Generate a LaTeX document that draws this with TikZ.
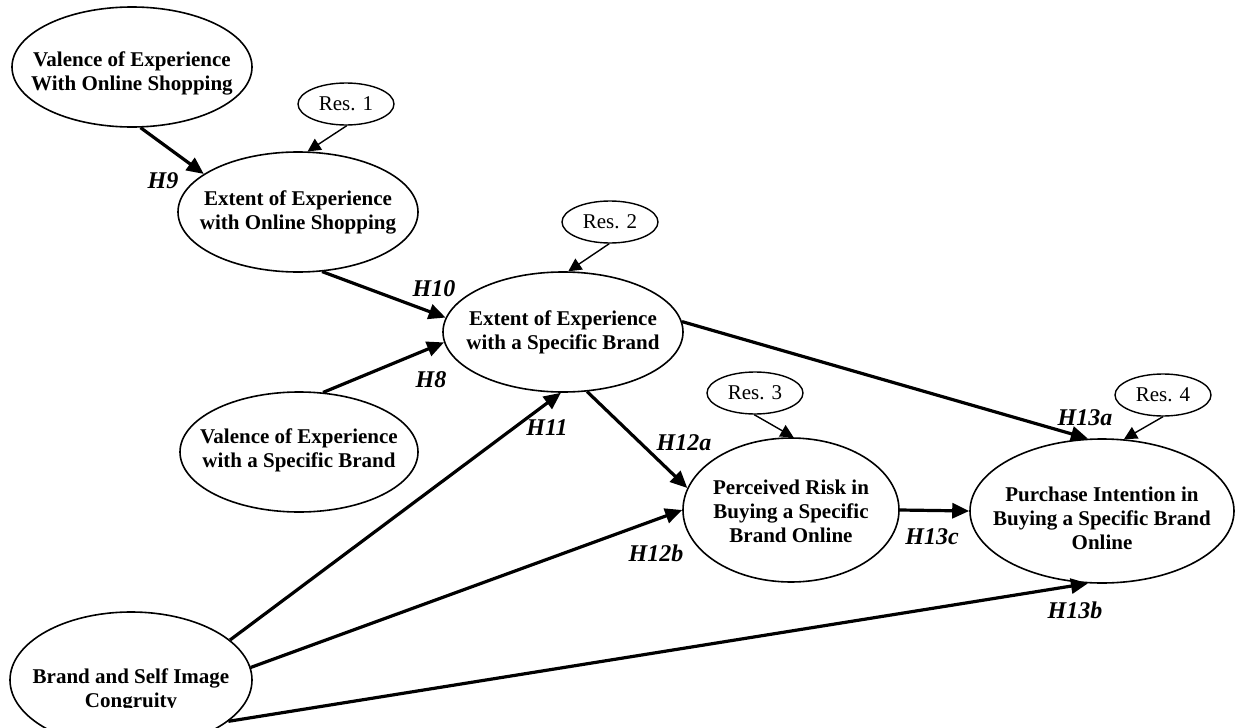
\documentclass[tikz,border=0pt]{standalone}
\usepackage{fontspec}
\setmainfont{Liberation Serif}
\usetikzlibrary{arrows.meta,shapes.geometric}
\begin{document}
\begin{tikzpicture}[x=1pt,y=-1pt,
  construct/.style={draw,ellipse,line width=1.6pt,inner sep=0pt},
  ctext/.style={inner sep=0pt,align=center,font=\fontsize{21}{24}\selectfont\bfseries},
  resid/.style={draw,ellipse,line width=1.4pt,inner sep=0pt,minimum width=96pt,minimum height=42pt,font=\fontsize{21}{24}\selectfont},
  effect/.style={line width=3.2pt,-{Triangle[length=17pt,width=15pt]}},
  respath/.style={line width=1.4pt,-{Triangle[length=13pt,width=13pt]}},
  hyp/.style={inner sep=0pt,font=\fontsize{24}{26}\selectfont\bfseries\itshape}]
\clip (0,0) rectangle (1235,728);

% constructs
\node[construct,minimum width=240pt,minimum height=120pt] (valOS) at (132,67) {};
\node[ctext] (valOS-t) at (132,73) {Valence of Experience\\With Online Shopping};

\node[construct,minimum width=240pt,minimum height=120pt] (extOS) at (298,212) {};
\node[ctext] (extOS-t) at (298,212) {Extent of Experience\\with Online Shopping};

\node[construct,minimum width=240pt,minimum height=120pt] (extB) at (563,332) {};
\node[ctext] (extB-t) at (563,332) {Extent of Experience\\with a Specific Brand};

\node[construct,minimum width=238pt,minimum height=120pt] (valB) at (299,452) {};
\node[ctext] (valB-t) at (299,450) {Valence of Experience\\with a Specific Brand};

\node[construct,minimum width=216pt,minimum height=144pt] (perc) at (791,510) {};
\node[ctext] (perc-t) at (791,511) {Perceived Risk in\\Buying a Specific\\Brand Online};

\node[construct,minimum width=264pt,minimum height=144pt] (purch) at (1102,511) {};
\node[ctext] (purch-t) at (1102,518) {Purchase Intention in\\Buying a Specific Brand\\Online};

\node[construct,minimum width=242pt,minimum height=136pt] (bself) at (131,680) {};
\begin{scope}
  % the second line is cut off at its baseline
  \clip (0,0) rectangle (1235,707);
  \node[ctext] (bself-t) at (131,690) {Brand and Self Image\\Congruity};
\end{scope}

% residuals
\node[resid] (res1) at (346,104) {Res. 1};
\node[resid] (res2) at (610,222) {Res. 2};
\node[resid] (res3) at (755,393) {Res. 3};
\node[resid] (res4) at (1163,395) {Res. 4};

% residual arrows
\draw[respath] (res1.-88) -- (extOS.81.5);
\draw[respath] (res2.-92) -- (extB.85);
\draw[respath] (res3.-92) -- (perc.88);
\draw[respath] (res4.-90) -- (purch.73.7);

% structural paths
\draw[effect] (valOS.-82.5) -- (extOS.158.9);
\draw[effect] (extOS.-68.2) -- (extB.173.3);
\draw[effect] (valB.68.2) -- (extB.185.7);
\draw[effect] (bself.22.9) -- (extB.-92.8);
\draw[effect] (extB.-68.2) -- (perc.168.1);
\draw[effect] (bself.6.2) -- (perc.180);
\draw[effect] (extB.5.7) -- (purch.101.8);
\draw[effect] (perc.0) -- (purch.180);
\draw[effect] (bself.-23.4) -- (purch.-101);

% hypothesis labels
\node[hyp] (h9) at (163,181) {H9};
\node[hyp] (h10) at (434,289) {H10};
\node[hyp] (h8) at (431,380) {H8};
\node[hyp] (h11) at (547,428) {H11};
\node[hyp] (h12a) at (684,443) {H12a};
\node[hyp] (h12b) at (656,553) {H12b};
\node[hyp] (h13a) at (1085,418) {H13a};
\node[hyp] (h13c) at (932,537) {H13c};
\node[hyp] (h13b) at (1075,610) {H13b};
\end{tikzpicture}
\end{document}
